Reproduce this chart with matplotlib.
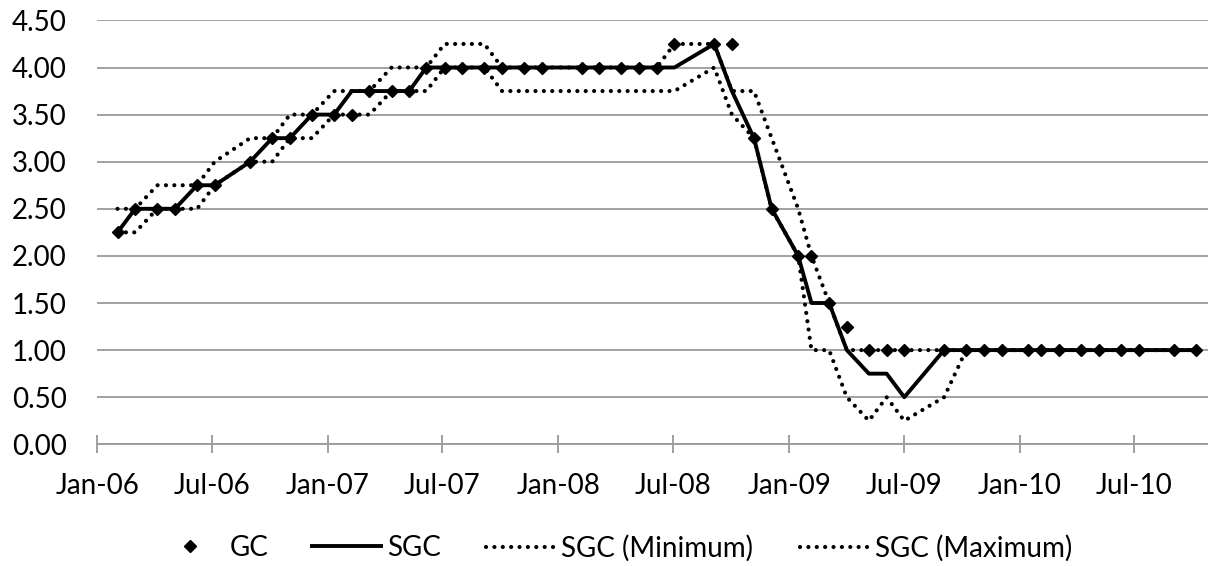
import matplotlib
matplotlib.use("Agg")
import matplotlib.pyplot as plt
import matplotlib.dates as mdates
import numpy as np
import pandas as pd

plt.rcParams["font.family"] = ["Lato", "DejaVu Sans"]

# meeting dates
dates = [
    "2006-02-02", "2006-03-02", "2006-04-06", "2006-05-04", "2006-06-08",
    "2006-07-06", "2006-08-31", "2006-10-05", "2006-11-02", "2006-12-07",
    "2007-01-11", "2007-02-08", "2007-03-08", "2007-04-12", "2007-05-10",
    "2007-06-06", "2007-07-05", "2007-08-02", "2007-09-06", "2007-10-04",
    "2007-11-08", "2007-12-06", "2008-02-07", "2008-03-06", "2008-04-10",
    "2008-05-08", "2008-06-05", "2008-07-03", "2008-09-04", "2008-10-02",
    "2008-11-06", "2008-12-04", "2009-01-15", "2009-02-05", "2009-03-05",
    "2009-04-02", "2009-05-07", "2009-06-04", "2009-07-02", "2009-09-03",
    "2009-10-08", "2009-11-05", "2009-12-03", "2010-01-14", "2010-02-04",
    "2010-03-04", "2010-04-08", "2010-05-06", "2010-06-10", "2010-07-08",
    "2010-09-02", "2010-10-07",
]

gc = [
    2.25, 2.50, 2.50, 2.50, 2.75, 2.75, 3.00, 3.25, 3.25, 3.50,
    3.50, 3.50, 3.75, 3.75, 3.75, 4.00, 4.00, 4.00, 4.00, 4.00,
    4.00, 4.00, 4.00, 4.00, 4.00, 4.00, 4.00, 4.25, 4.25, 4.25,
    3.25, 2.50, 2.00, 2.00, 1.50, 1.25, 1.00, 1.00, 1.00, 1.00,
    1.00, 1.00, 1.00, 1.00, 1.00, 1.00, 1.00, 1.00, 1.00, 1.00,
    1.00, 1.00,
]

sgc = [
    2.25, 2.50, 2.50, 2.50, 2.75, 2.75, 3.00, 3.25, 3.25, 3.50,
    3.50, 3.75, 3.75, 3.75, 3.75, 4.00, 4.00, 4.00, 4.00, 4.00,
    4.00, 4.00, 4.00, 4.00, 4.00, 4.00, 4.00, 4.00, 4.25, 3.75,
    3.25, 2.50, 2.00, 1.50, 1.50, 1.00, 0.75, 0.75, 0.50, 1.00,
    1.00, 1.00, 1.00, 1.00, 1.00, 1.00, 1.00, 1.00, 1.00, 1.00,
    1.00, 1.00,
]

sgc_min = [
    2.25, 2.25, 2.50, 2.50, 2.50, 2.75, 3.00, 3.00, 3.25, 3.25,
    3.50, 3.50, 3.50, 3.75, 3.75, 3.75, 4.00, 4.00, 4.00, 3.75,
    3.75, 3.75, 3.75, 3.75, 3.75, 3.75, 3.75, 3.75, 4.00, 3.50,
    3.25, 2.50, 2.00, 1.00, 1.00, 0.50, 0.25, 0.50, 0.25, 0.50,
    1.00, 1.00, 1.00, 1.00, 1.00, 1.00, 1.00, 1.00, 1.00, 1.00,
    1.00, 1.00,
]

sgc_max = [
    2.50, 2.50, 2.75, 2.75, 2.75, 3.00, 3.25, 3.25, 3.50, 3.50,
    3.75, 3.75, 3.75, 4.00, 4.00, 4.00, 4.25, 4.25, 4.25, 4.00,
    4.00, 4.00, 4.00, 4.00, 4.00, 4.00, 4.00, 4.25, 4.25, 3.75,
    3.75, 3.25, 2.50, 2.00, 1.50, 1.00, 1.00, 1.00, 1.00, 1.00,
    1.00, 1.00, 1.00, 1.00, 1.00, 1.00, 1.00, 1.00, 1.00, 1.00,
    1.00, 1.00,
]

x = pd.to_datetime(dates)

W, H = 1208, 566
FS = 20
fig = plt.figure(figsize=(W / 100, H / 100), dpi=100)
ax = fig.add_axes([97.3 / W, (H - 444.3) / H, (W - 97.3) / W, (444.3 - 20.4) / H])

dot_style = dict(color="black", linewidth=3.0, linestyle=(0, (0.01, 2.0)),
                 dash_capstyle="round")

l_min, = ax.plot(x, sgc_min, zorder=3, **dot_style)
l_max, = ax.plot(x, sgc_max, zorder=3, **dot_style)
l_sgc, = ax.plot(x, sgc, color="black", linewidth=2.8, zorder=4)
l_gc, = ax.plot(x, gc, linestyle="none", marker="D", markersize=5.8,
                color="black", zorder=5)

ax.set_ylim(0, 4.5)
ax.set_yticks(np.arange(0, 4.51, 0.5))
ax.yaxis.set_major_formatter(plt.FormatStrFormatter("%.2f"))
ax.set_xlim(pd.Timestamp("2006-01-01"), pd.Timestamp("2010-10-26"))
ax.xaxis.set_major_locator(mdates.MonthLocator(bymonth=[1, 7]))
ax.xaxis.set_major_formatter(mdates.DateFormatter("%b-%y"))

ax.grid(axis="y", color="#9a9a9a", linewidth=1.3)
ax.set_axisbelow(True)
for side in ["top", "right", "left"]:
    ax.spines[side].set_visible(False)
ax.spines["bottom"].set_color("#9a9a9a")
ax.spines["bottom"].set_linewidth(1.3)
ax.tick_params(axis="y", length=0, pad=22, labelsize=FS)
ax.tick_params(axis="x", direction="inout", length=13.5, width=1.3,
               color="#9a9a9a", pad=14, labelsize=FS)

# legend entries placed one by one (start of handle in px)
entries = [(l_gc, "GC", 155), (l_sgc, "SGC", 312),
           (l_min, "SGC (Minimum)", 486), (l_max, "SGC (Maximum)", 800)]
for h, lab, x0 in entries:
    fig.legend([h], [lab], loc="center left",
               bbox_to_anchor=(x0 / W, 1 - 548 / H), frameon=False,
               fontsize=FS, handlelength=2.5, handletextpad=0.2,
               borderpad=0, borderaxespad=0)

fig.savefig("out.png", dpi=100)
